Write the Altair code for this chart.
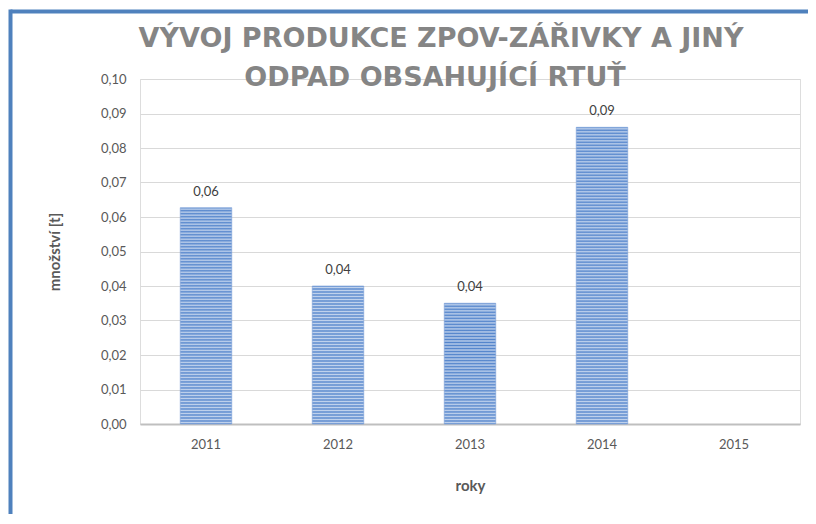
import altair as alt
import pandas as pd

# ---- data ----
years = ["2011", "2012", "2013", "2014", "2015"]
values = [0.0627, 0.0400, 0.0350, 0.0860, None]

title_lines = ["VÝVOJ PRODUKCE ZPOV-ZÁŘIVKY A JINÝ", "ODPAD OBSAHUJÍCÍ RTUŤ"]
x_title = "roky"
y_title = "množství [t]"

df = pd.DataFrame({"rok": years, "mnozstvi": values})

W, H = 660, 345
Y_MAX = 0.10
FONT = "Lato"
DARK = "#5485cc"
LIGHT = "#bfd1ec"

x_scale = alt.Scale(domain=years, paddingInner=0.61, paddingOuter=0.305)
x_enc = alt.X(
    "rok:N",
    sort=years,
    scale=x_scale,
    axis=alt.Axis(
        title=x_title, labelAngle=0, ticks=False, grid=False,
        domainColor="#bfbfbf", domainWidth=2,
        labelPadding=14, labelFontSize=13, labelColor="#595959", labelFont=FONT,
        titlePadding=27, titleFontSize=15, titleFontWeight="bold",
        titleColor="#595959", titleFont=FONT,
    ),
)
y_scale = alt.Scale(domain=[0, Y_MAX], nice=False)
y_enc = alt.Y(
    "mnozstvi:Q",
    scale=y_scale,
    axis=alt.Axis(
        title=y_title, tickCount=10, ticks=False, domain=False,
        gridColor="#d9d9d9", gridWidth=1,
        labelExpr="replace(format(datum.value, '.2f'), '.', ',')",
        labelPadding=14, labelFontSize=13, labelColor="#595959", labelFont=FONT,
        titlePadding=38, titleFontSize=15, titleFontWeight="bold",
        titleColor="#595959", titleFont=FONT,
    ),
)


def stripes(v):
    """horizontal stripe fill (~3px period) as a gradient style for one bar"""
    h = v / Y_MAX * H
    n = max(1, round(h / 3))
    stops = []
    for k in range(n):
        stops.append(alt.GradientStop(offset=k / n, color=DARK))
        stops.append(alt.GradientStop(offset=(k + 0.5) / n, color=LIGHT))
    stops.append(alt.GradientStop(offset=1, color=DARK))
    return alt.Gradient(gradient="linear", stops=stops, x1=0, x2=0, y1=0, y2=1)


one = pd.DataFrame({"f": [0]})
layers = []

# frame of the original chart object (cut off on the right and bottom)
frame_left = alt.Chart(one).mark_rule(
    stroke="#4f81bd", strokeWidth=4, strokeCap="square"
).encode(x=alt.value(-129.5), y=alt.value(-67.5), y2=alt.value(H + 95))
frame_top = alt.Chart(one).mark_rule(
    stroke="#4f81bd", strokeWidth=4, strokeCap="butt"
).encode(x=alt.value(-129.5), x2=alt.value(W + 30), y=alt.value(-67.5))
layers += [frame_left, frame_top]

base = alt.Chart(df)

# axes / gridlines carrier (invisible)
axes = base.mark_bar(opacity=0).encode(x=x_enc, y=y_enc)
layers.append(axes)

for yr, v in zip(years, values):
    if v is None:
        continue
    bar = alt.Chart(df).transform_filter(
        alt.datum.rok == yr
    ).mark_bar(color=stripes(v), stroke="#7a9fd6", strokeWidth=0.6).encode(
        x=alt.X("rok:N", sort=years, scale=x_scale),
        y=alt.Y("mnozstvi:Q", scale=y_scale),
    )
    layers.append(bar)

labels = base.transform_filter(
    "isValid(datum.mnozstvi)"
).transform_calculate(
    lab="replace(format(datum.mnozstvi, '.2f'), '.', ',')"
).mark_text(
    baseline="bottom", dy=-9, fontSize=13, color="#404040", font=FONT
).encode(
    x=alt.X("rok:N", sort=years, scale=x_scale),
    y=alt.Y("mnozstvi:Q", scale=y_scale),
    text="lab:N",
)
layers.append(labels)

# chart title (two lines, drawn as text so it can overlap the top gridline)
title_style = dict(font="DejaVu Sans", fontSize=27, fontWeight="bold", color="#858585",
                   align="center", baseline="alphabetic")
t1 = alt.Chart(one).mark_text(**title_style).encode(
    x=alt.value(301), y=alt.value(-32.5), text=alt.value(title_lines[0]))
t2 = alt.Chart(one).mark_text(**title_style).encode(
    x=alt.value(295), y=alt.value(7), text=alt.value(title_lines[1]))
layers += [t1, t2]

chart = alt.layer(*layers).properties(
    width=W,
    height=H,
    autosize="none",
    padding={"left": 132, "top": 71, "right": 8, "bottom": 90},
).configure_view(
    stroke=None
).configure(
    background="white"
)

chart.save("out.html", embed_options={"renderer": "svg", "actions": False})
